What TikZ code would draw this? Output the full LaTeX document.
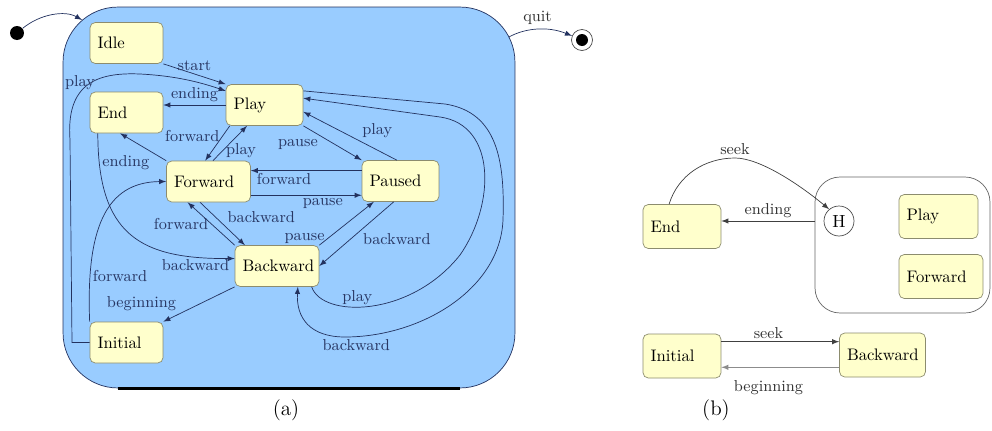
\documentclass[tikz,border=0pt]{standalone}
\usetikzlibrary{arrows}

\definecolor{stateyellow}{RGB}{255,255,204}
\definecolor{stateline}{RGB}{140,140,110}
\definecolor{playerblue}{RGB}{153,204,255}
\definecolor{edgeblue}{RGB}{35,50,95}
\definecolor{labelblue}{RGB}{40,55,100}

\tikzstyle{statebox} = [draw=stateline, fill=stateyellow, rectangle,
  rounded corners=3pt, inner sep=0.15cm, text width=1.16cm,
  minimum height=0.82cm, align=left, font=\fontsize{9.5}{11}\selectfont]
\tikzstyle{widebox} = [statebox, text width=1.38cm]
\tikzstyle{panelbox} = [statebox, text width=1.26cm, minimum height=0.88cm]
\tikzstyle{composite} = [draw=edgeblue, fill=playerblue, rectangle,
  rounded corners=1.1cm, minimum width=9.04cm, minimum height=7.62cm]
\tikzstyle{trans} = [->, draw=edgeblue]
\tikzstyle{plain} = [->, draw=black!75]
\tikzstyle{translabel} = [text=labelblue, font=\small, inner sep=1.5pt]
\tikzstyle{plainlabel} = [text=black!80, font=\small, inner sep=1.5pt]

\begin{document}
\begin{tikzpicture}[x=0.02cm, y=-0.02cm, >=latex]
        \useasboundingbox (0,0) rectangle (992,430);

        \node [composite] (player)    at (289,197.5) {};
        \draw [line width=1.5pt] ([xshift=1.1cm]player.south west) -- ([xshift=-1.1cm]player.south east);
        \coordinate (entry) at (82,20);
        \coordinate (exit)  at (509,37);

        \node [circle, fill=black, minimum size=0.28cm, inner sep=0pt] (init) at (17,33) {};
        \node [circle, draw=black!70, fill=white, minimum size=0.42cm, inner sep=0pt] (final) at (582,40) {};
        \node [circle, fill=black, minimum size=0.24cm, inner sep=0pt] (finaldot) at (final) {};

        \node [statebox]                   (idle)     at (126.5, 43)   {Idle};
        \node [statebox, text width=1.24cm] (play)    at (264.5,105)   {Play};
        \node [statebox]                   (end)      at (126.5,112.5) {End};
        \node [widebox]                    (forward)  at (208.5,181.5) {Forward};
        \node [statebox, text width=1.24cm] (paused)  at (400.5,181)   {Paused};
        \node [widebox]                    (backward) at (277,266)     {Backward};
        \node [statebox]                   (initial)  at (126.5,342.5) {Initial};

        \draw [trans] (init) .. controls (40,14) and (65,10) .. (entry);
        \draw [trans] (exit) .. controls (525,28) and (548,26) .. (final)
              node [plainlabel, pos=0.5, above=1pt] {quit};

        \draw [trans] (idle.south east) -- (play.north west) node [translabel, midway, above] {start};
        \draw [trans] (initial.west) -- (72,342.5) -- (70,140)
              .. controls (66,85) and (95,72) .. (140,74) node [translabel, pos=0.4, above] {play}
              .. controls (180,76) and (205,84) .. (play.160);
        \draw [trans] (play.west) -- (play.west -| end.east) node [translabel, midway, above] {ending};
        \draw [trans] (forward.north west) -- (end.-107) node [translabel, pos=0.3, below left] {ending};
        \draw [trans] (play.-149) -- (forward.99) node [translabel, pos=0.3, left] {forward};
        \draw [trans] (forward.78) -- (play.-130) node [translabel, pos=0.3, right] {play};
        \draw [trans] (play.south east) -- (paused.north west) node [translabel, pos=0.3, below left] {pause};
        \draw [trans] (paused.100) -- (play.-10) node [translabel, pos=0.4, above right] {play};
        \draw [trans] (paused.165) -- (paused.165 -| forward.east) node [translabel, pos=0.7, below] {forward};
        \draw [trans] (forward.-18) -- (forward.-18 -| paused.west) node [translabel, pos=0.65, below] {pause};
        \draw [trans] (forward.-112) -- (backward.147) node [translabel, pos=0.55, above right] {backward};
        \draw [trans] (backward.north west) -- (forward.-135) node [translabel, pos=0.5, left] {forward};
        \draw [trans] (backward.north east) -- (paused.-142) node [translabel, pos=0.15, left] {pause};
        \draw [trans] (paused.-108) -- (backward.east) node [translabel, pos=0.45, below right] {backward};
        \draw [trans] (end.-144) .. controls (98,235) and (140,259) .. (backward.170)
              node [translabel, pos=0.85, below] {backward};
        \draw [trans] (initial.north west) .. controls (86,230) and (105,182) .. (forward.west)
              node [translabel, pos=0.18, right] {forward};
        \draw [trans] (backward.south west) -- (initial.north east) node [translabel, pos=0.78, above left] {beginning};
        \draw [trans] (backward.-31) .. controls (322,318) and (410,318) .. (460,255)
              node [translabel, pos=0.42, above] {play}
              .. controls (495,205) and (497,125) .. (440,117) -- (play.10);
        \draw [trans] (play.20) -- (445,104) .. controls (497,112) and (505,160) .. (503,220)
              .. controls (500,290) and (420,337) .. (345,337) node [translabel, pos=0.95, below] {backward}
              .. controls (310,337) and (296,318) .. (backward.-45);

        \node [draw=black!60, rounded corners=0.5cm, minimum width=3.5cm, minimum height=2.72cm] (sub) at (902.5,245) {};
        \node [draw=black!70, circle, minimum size=0.6cm, inner sep=0pt] (hist) at (839,221) {H};
        \node [panelbox]                    (endb)      at (682,226.5) {End};
        \node [panelbox, text width=1.28cm] (playb)     at (938.5,216.5) {Play};
        \node [panelbox, text width=1.38cm] (forwardb)  at (941,276.5) {Forward};
        \node [panelbox]                    (initialb)  at (682,356)   {Initial};
        \node [panelbox, text width=1.42cm] (backwardb) at (882.5,355) {Backward};

        \draw [plain] (endb.120) .. controls (678,175) and (705,158) .. (735,158)
              node [plainlabel, pos=1, above] {seek}
              .. controls (760,158) and (800,185) .. (hist.130);
        \draw [plain] (hist -| sub.west) -- (hist -| endb.east) node [plainlabel, midway, above] {ending};
        \draw [plain] (initialb.20) -- (initialb.20 -| backwardb.west) node [plainlabel, pos=0.4, above] {seek};
        \draw [plain, draw=black!45] (initialb.-16 -| backwardb.west) -- (initialb.-16)
              node [plainlabel, pos=0.6, below=6pt] {beginning};

        \node [font=\large] (capa) at (286,410) {(a)};
        \node [font=\large] (capb) at (716,410) {(b)};
      \end{tikzpicture}
\end{document}
